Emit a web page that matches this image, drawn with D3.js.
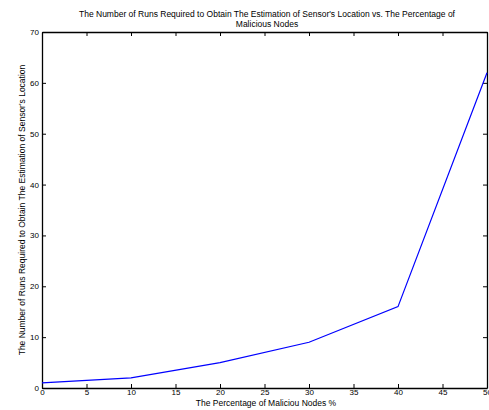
<!DOCTYPE html>
<html lang="en">
<head>
    <meta charset="UTF-8">
    <title>Runs vs Malicious Nodes</title>
    <style>
        body { margin: 0; background: #fff; }
        svg text { font-family: "Liberation Sans", Arial, sans-serif; }
    </style>
</head>
<body>
    <svg id="container" width="489" height="410"></svg>

<script src="https://cdn.jsdelivr.net/npm/d3@7"></script>
<script>
    // data
    let percents = [0, 10, 20, 30, 40, 50]
    let runs = [1, 2, 5, 9, 16, 62]
    let xTicks = [0, 5, 10, 15, 20, 25, 30, 35, 40, 45, 50]
    let yTicks = [0, 10, 20, 30, 40, 50, 60, 70]

    let svg = d3.select("#container")
    let mLeft = 42, mRight = 487, mTop = 32, mBottom = 388

    let x = d3.scaleLinear().domain([0, 50]).range([mLeft, mRight])
    let y = d3.scaleLinear().domain([0, 70]).range([mBottom, mTop])

    let tick = 4
    let axes = svg.append("g")

    // bottom & left with labels, ticks pointing in
    axes.append("g").attr("transform", `translate(0,${mBottom})`)
        .call(d3.axisBottom(x).tickValues(xTicks).tickSizeInner(-tick).tickSizeOuter(0).tickPadding(1.5))
    axes.append("g").attr("transform", `translate(${mLeft},0)`)
        .call(d3.axisLeft(y).tickValues(yTicks).tickSizeInner(-tick).tickSizeOuter(0).tickPadding(3))
    // top & right, ticks only
    axes.append("g").attr("transform", `translate(0,${mTop})`)
        .call(d3.axisTop(x).tickValues(xTicks).tickSizeInner(-tick).tickSizeOuter(0).tickFormat(""))
    axes.append("g").attr("transform", `translate(${mRight},0)`)
        .call(d3.axisRight(y).tickValues(yTicks).tickSizeInner(-tick).tickSizeOuter(0).tickFormat(""))

    axes.selectAll("text").style("font-size", "8px").attr("fill", "#000")
    axes.selectAll("path.domain").attr("stroke", "#000").attr("stroke-width", 1.3)
    axes.selectAll(".tick line").attr("stroke", "#000")

    let line = d3.line().x((d, i) => x(percents[i])).y(d => y(d))
    svg.append("path")
        .datum(runs)
        .attr("d", line)
        .attr("fill", "none")
        .attr("stroke", "#0000ff")
        .attr("stroke-width", 1.2)

    // titles
    let title = svg.append("text").attr("text-anchor", "middle").style("font-size", "8.5px")
    title.append("tspan").attr("x", 267).attr("y", 17)
        .text("The Number of Runs Required to Obtain The Estimation of Sensor's Location vs. The Percentage of")
    title.append("tspan").attr("x", 267).attr("y", 27).text("Malicious Nodes")

    svg.append("text").attr("text-anchor", "middle").style("font-size", "8.5px")
        .attr("x", 266).attr("y", 405.5)
        .text("The Percentage of Maliciou Nodes %")

    svg.append("text").attr("text-anchor", "middle").style("font-size", "8.5px")
        .attr("transform", `translate(25,${(mTop + mBottom) / 2}) rotate(-90)`)
        .text("The Number of Runs Required to Obtain The Estimation of Sensor's Location")
</script>
</body>
</html>
